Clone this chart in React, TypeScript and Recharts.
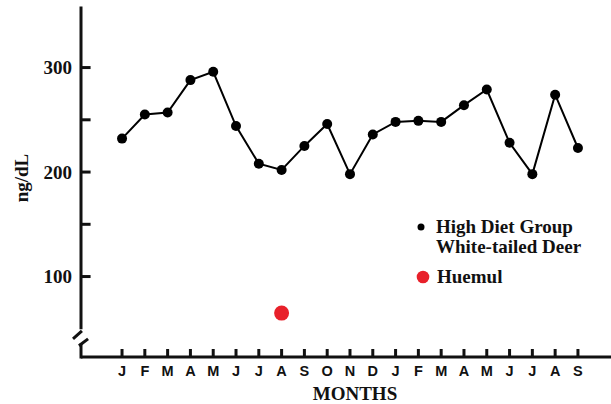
import React from "react";
import { ComposedChart, Line, Scatter, XAxis, YAxis, ReferenceLine, Legend } from "recharts";

const months = ["J", "F", "M", "A", "M", "J", "J", "A", "S", "O", "N", "D", "J", "F", "M", "A", "M", "J", "J", "A", "S"];
const deerValues = [232, 255, 257, 288, 296, 244, 208, 202, 225, 246, 198, 236, 248, 249, 248, 264, 279, 228, 198, 274, 223];
const huemulMonths = [7];
const huemulValues = [65];
const yTicks = [100, 150, 200, 250, 300];
const yLabels = [100, 200, 300];

const deerData = months.map((m, i) => ({ idx: i, month: m, deer: deerValues[i] }));
const huemulData = huemulMonths.map((idx, i) => ({ idx, huemul: huemulValues[i] }));

const X_MIN = -1.8;
const X_MAX = 21.45;
const Y_MIN = 23;
const Y_MAX = 357;
const TICK_LEN = 0.42; // month units, about 9-10px

const serif = "'Liberation Serif', 'Times New Roman', serif";
const sans = "'Liberation Sans', Arial, sans-serif";
const AXIS = "#111";

const YTick = (props: any) => {
  const { x, y, payload } = props;
  if (!yLabels.includes(payload.value)) return <g />;
  return (
    <text x={x} y={y + 6.5} textAnchor="end" fontFamily={serif} fontWeight="bold" fontSize={19} fill={AXIS}>
      {payload.value}
    </text>
  );
};

const XTick = (props: any) => {
  const { x, y, payload } = props;
  return (
    <g>
      <line x1={x} y1={y} x2={x} y2={y - 8} stroke={AXIS} strokeWidth={3} />
      <text x={x} y={y + 19} textAnchor="middle" fontFamily={sans} fontWeight="bold" fontSize={14.5} fill={AXIS}>
        {months[payload.value]}
      </text>
    </g>
  );
};

const renderLegend = () => (
  <svg width={200} height={90} style={{ display: "block" }}>
    <circle cx={10} cy={17} r={3.5} fill="#000" />
    <text x={25} y={23} fontFamily={serif} fontWeight="bold" fontSize={19} fill={AXIS}>High Diet Group</text>
    <text x={25} y={43} fontFamily={serif} fontWeight="bold" fontSize={19} fill={AXIS}>White-tailed Deer</text>
    <circle cx={12} cy={67} r={6.3} fill="#e8202a" />
    <text x={26} y={73} fontFamily={serif} fontWeight="bold" fontSize={19} fill={AXIS}>Huemul</text>
  </svg>
);

const axisSeg = { stroke: AXIS, strokeWidth: 3, ifOverflow: "visible" as const };

export default function App() {
  return (
    <div style={{ position: "absolute", left: 0, top: 0, width: 611, height: 404, background: "#fff" }}>
      <ComposedChart width={611} height={404} data={deerData} margin={{ top: 8, right: 0, left: 0, bottom: 0 }}>
        <XAxis
          dataKey="idx"
          type="number"
          domain={[X_MIN, X_MAX]}
          allowDataOverflow
          ticks={months.map((_, i) => i)}
          interval={0}
          height={47}
          tickSize={0}
          tickMargin={0}
          tickLine={false}
          axisLine={{ stroke: AXIS, strokeWidth: 3 }}
          tick={<XTick />}
          label={(p: any) => {
            const vb = p.viewBox;
            return (
              <text x={vb.x + vb.width / 2 + 9} y={vb.y + vb.height - 4} textAnchor="middle" fontFamily={serif} fontWeight="bold" fontSize={19} fill={AXIS}>
                MONTHS
              </text>
            );
          }}
        />
        <YAxis
          type="number"
          domain={[Y_MIN, Y_MAX]}
          allowDataOverflow
          ticks={yTicks}
          width={81}
          tickSize={0}
          tickMargin={9}
          tickLine={false}
          axisLine={false}
          tick={<YTick />}
          label={(p: any) => {
            const vb = p.viewBox;
            const cx = vb.x + 28;
            const cy = vb.y + 170;
            return (
              <text x={cx} y={cy} transform={`rotate(-90, ${cx}, ${cy})`} textAnchor="middle" fontFamily={serif} fontWeight="bold" fontSize={19} fill={AXIS}>
                ng/dL
              </text>
            );
          }}
        />
        {/* y axis drawn in pieces for the break */}
        <ReferenceLine segment={[{ x: X_MIN, y: Y_MAX }, { x: X_MIN, y: 51 }]} {...axisSeg} strokeLinecap="square" />
        <ReferenceLine segment={[{ x: X_MIN, y: 34.5 }, { x: X_MIN, y: Y_MIN }]} {...axisSeg} strokeLinecap="square" />
        <ReferenceLine segment={[{ x: -2.15, y: 40.3 }, { x: -1.76, y: 47.9 }]} {...axisSeg} />
        <ReferenceLine segment={[{ x: -1.89, y: 33.7 }, { x: -1.49, y: 40.3 }]} {...axisSeg} />
        {/* inward y ticks */}
        {yTicks.map((v) => (
          <ReferenceLine key={v} segment={[{ x: X_MIN, y: v }, { x: X_MIN + TICK_LEN, y: v }]} {...axisSeg} />
        ))}
        <Line
          dataKey="deer"
          stroke="#000"
          strokeWidth={2}
          dot={{ r: 5, fill: "#000", stroke: "#000", strokeWidth: 0 }}
          activeDot={false}
          isAnimationActive={false}
        />
        <Scatter
          data={huemulData}
          dataKey="huemul"
          fill="#e8202a"
          isAnimationActive={false}
          shape={(p: any) => <circle cx={p.cx} cy={p.cy} r={7.5} fill="#e8202a" />}
        />
        <Legend
          layout="horizontal"
          verticalAlign="middle"
          align="center"
          content={renderLegend}
          wrapperStyle={{ position: "absolute", left: 411, top: 210, width: 200, height: 90 }}
        />
      </ComposedChart>
    </div>
  );
}
